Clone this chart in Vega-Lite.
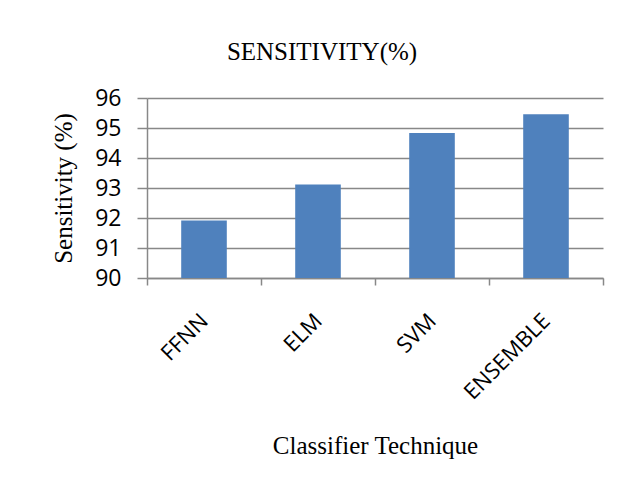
{
  "$schema": "https://vega.github.io/schema/vega-lite/v6.json",
  "width": 456,
  "height": 180,
  "autosize": {"type": "none"},
  "padding": {"left": 147, "top": 98, "right": 19, "bottom": 209},
  "background": "white",
  "title": {
    "text": "SENSITIVITY(%)",
    "font": "Liberation Serif",
    "fontSize": 25,
    "fontWeight": "normal",
    "color": "black",
    "anchor": "middle",
    "dx": -53,
    "offset": 22
  },
  "data": {
    "values": [
      {"technique": "FFNN", "sensitivity": 91.92},
      {"technique": "ELM", "sensitivity": 93.12},
      {"technique": "SVM", "sensitivity": 94.83},
      {"technique": "ENSEMBLE", "sensitivity": 95.46}
    ]
  },
  "mark": {"type": "bar", "color": "#4F81BD", "clip": true, "width": {"band": 0.4}},
  "encoding": {
    "x": {
      "field": "technique",
      "type": "nominal",
      "sort": null,
      "scale": {"paddingInner": 0, "paddingOuter": 0},
      "axis": {
        "title": "Classifier Technique",
        "titleFont": "Liberation Serif",
        "titleFontSize": 25,
        "titleFontWeight": "normal",
        "titleColor": "black",
        "titlePadding": 30,
        "labelAngle": -45,
        "labelAlign": "right",
        "labelBaseline": "middle",
        "labelFont": "Open Sans",
        "labelFontSize": 22,
        "labelColor": "black",
        "labelPadding": 32,
        "tickBand": "extent",
        "tickSize": 7,
        "tickColor": "#888888",
        "tickWidth": 1.5,
        "domainColor": "#888888",
        "domainWidth": 1.5,
        "grid": false
      }
    },
    "y": {
      "field": "sensitivity",
      "type": "quantitative",
      "scale": {"domain": [90, 96], "zero": false, "nice": false},
      "axis": {
        "title": "Sensitivity (%)",
        "titleFont": "Liberation Serif",
        "titleFontSize": 25,
        "titleFontWeight": "normal",
        "titleColor": "black",
        "titlePadding": 18,
        "values": [90, 91, 92, 93, 94, 95, 96],
        "labelFont": "Open Sans",
        "labelFontSize": 23,
        "labelColor": "black",
        "labelPadding": 16,
        "tickSize": 10,
        "tickColor": "#888888",
        "tickWidth": 1.5,
        "domainColor": "#888888",
        "domainWidth": 1.5,
        "grid": true,
        "gridColor": "#888888",
        "gridWidth": 1.5
      }
    }
  },
  "config": {
    "view": {"stroke": null}
  }
}
